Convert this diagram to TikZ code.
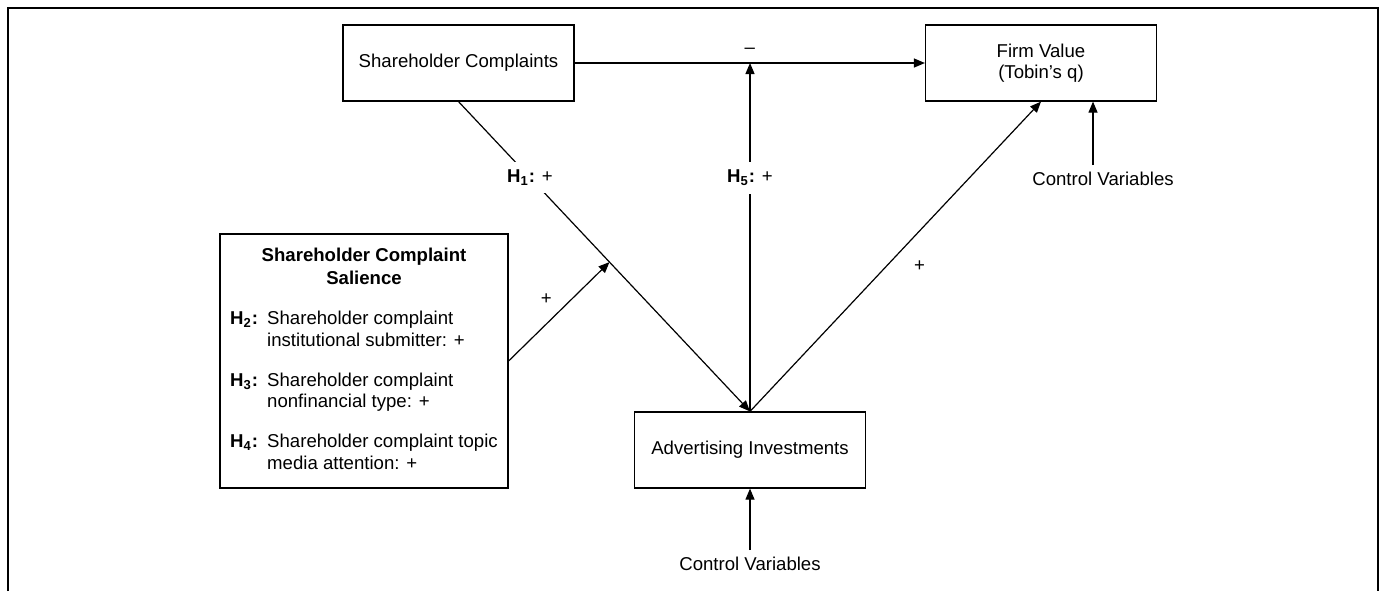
\documentclass[tikz,border=0pt]{standalone}
\usepackage{fontspec}
\setmainfont{Liberation Sans}
\usepackage{tikz}
\usetikzlibrary{arrows.meta,calc,positioning}

\begin{document}
\begin{tikzpicture}[x=0.5pt,y=-0.5pt,
        font=\fontsize{9.3}{10.75}\selectfont,
        box/.style={draw,line width=0.6pt,minimum width=115.5pt,minimum height=38pt,align=center,inner sep=0pt},
        link/.style={line width=0.6pt,-{Triangle[length=5.5pt,width=4.5pt]}},
        hyp/.style={fill=white,inner sep=4pt}]
        \useasboundingbox (0,0) rectangle (1379,591);
        %frame
        \draw[line width=1.15pt] (7.8,591) -- (7.8,7.8) -- (1378,7.8) -- (1378,591);

        \begin{scope}
            %top row
            \node[box] (complaints) at (458.5,63) {Shareholder Complaints};
            \node[box] (firm) at (1041,63) {Firm Value\\(Tobin’s q)};

            %middle
            \node[box,minimum width=144pt,minimum height=127pt] (salience) at (364,361) {%
                \begin{tabular}{@{}p{18.5pt}@{}l@{}}
                    \multicolumn{2}{c}{\textbf{Shareholder Complaint}}\\[0.75pt]
                    \multicolumn{2}{c}{\textbf{Salience}}\\[9.3pt]
                    \textbf{H\textsubscript{2}:} & Shareholder complaint\\
                     & institutional submitter: +\\[9.3pt]
                    \textbf{H\textsubscript{3}:} & Shareholder complaint\\
                     & nonfinancial type: +\\[9.3pt]
                    \textbf{H\textsubscript{4}:} & Shareholder complaint topic\\
                     & media attention: +
                \end{tabular}};

            %bottom
            \node[box] (ads) at (750,450) {Advertising Investments};

            %controls
            \node (ctrlfirm) at (1103,179) {Control Variables};
            \node (ctrlads) at (750,564) {Control Variables};
        \end{scope}

        \coordinate (mod) at (ads.north |- complaints.east);
        \coordinate (h1pt) at ($(complaints.south)!0.518!(ads.north)$);

        %arrows
        \begin{scope}
            \draw[link] (complaints) -- node[above=1pt] (minus) {\textendash} (firm);
            \draw[link] (complaints.south) -- node[hyp,pos=0.245] (h1) {\textbf{H\textsubscript{1}:} +} (ads.north);
            \draw[link] (ads.north) -- node[hyp,pos=0.67] (h5) {\textbf{H\textsubscript{5}:} +} (mod);
            \draw[link] (salience.east) -- node[pos=0.5,above left=0pt] (plussal) {+} (h1pt);
            \draw[link] (ads.north) -- node[pos=0.47,right=10pt] (plusfirm) {+} (firm.south);

            \draw[link] ([xshift=-5pt]ctrlfirm.north) -- ([xshift=-5pt]ctrlfirm.north |- firm.south);
            \draw[link] (ctrlads) -- (ads);
        \end{scope}
\end{tikzpicture}
\end{document}
